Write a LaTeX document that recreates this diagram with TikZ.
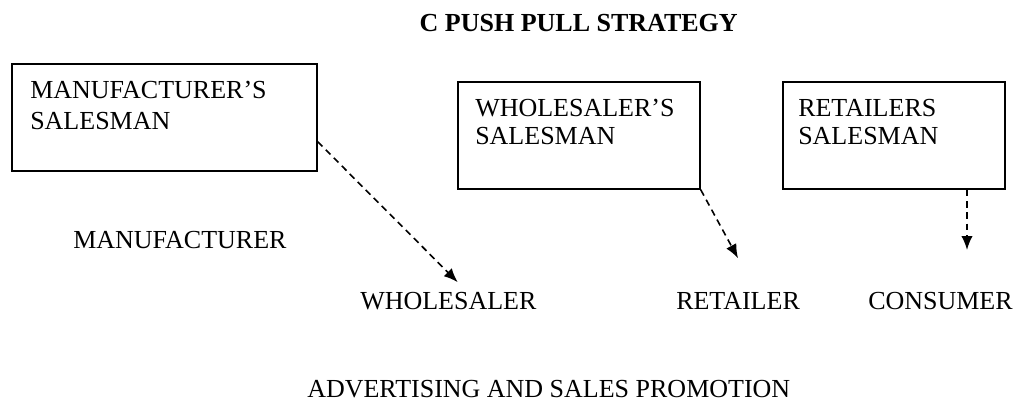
\documentclass[tikz,border=0pt]{standalone}
\usepackage{fontspec}
\setmainfont{Liberation Serif}
\usetikzlibrary{arrows.meta,positioning,fit,calc}

\tikzset{
	salesbox/.style={draw, line width=1.1pt, inner sep=0pt},
	boxtext/.style={anchor=base west, align=left, inner sep=0pt, font=\fontsize{19.5}{21}\selectfont},
	chaintext/.style={anchor=base west, inner sep=0pt, font=\fontsize{19.5}{22}\selectfont},
	titletext/.style={anchor=base east, inner sep=0pt, font=\bfseries\fontsize{19.5}{22}\selectfont},
	flow/.style={dash pattern=on 5pt off 3.5pt, line width=1.2pt, -{Latex[length=10.5pt,width=8.5pt]}}
}

\begin{document}
\begin{tikzpicture}[x=0.75pt,y=-0.75pt]
	\useasboundingbox (0,0) rectangle (1026,403);
	\node at (738,32)[titletext] (title) {C PUSH PULL STRATEGY};
	% salesmen boxes
	\node[salesbox, fit={(12,64) (317,171)}] (msales) {};
	\node[salesbox, fit={(458,82) (700,189)}] (wsales) {};
	\node[salesbox, fit={(783,82) (1005,189)}] (rsales) {};
	\node at (30,130)[boxtext] (msalestxt) {MANUFACTURER'S\\[3pt]SALESMAN};
	\node at (475,145)[boxtext] (wsalestxt) {WHOLESALER'S\\SALESMAN};
	\node at (798,145)[boxtext] (rsalestxt) {RETAILERS\\SALESMAN};
	% chain
	\node at (73,248)[chaintext] (mfr) {MANUFACTURER};
	\node at (360,309)[chaintext] (wsl) {WHOLESALER};
	\node at (676,309)[chaintext] (ret) {RETAILER};
	\node at (868,309)[chaintext] (cons) {CONSUMER};
	\node at (307,397)[chaintext] (adv) {ADVERTISING AND SALES PROMOTION};
	\coordinate (ctip) at (967,250);
	\draw[flow] (msales.-9.5) -- ([xshift=7pt,yshift=7pt]wsl.north);
	\draw[flow] (wsales.south east) -- ([yshift=25pt]ret.north);
	\draw[flow] (rsales.south -| ctip) -- (ctip);
\end{tikzpicture}
\end{document}
